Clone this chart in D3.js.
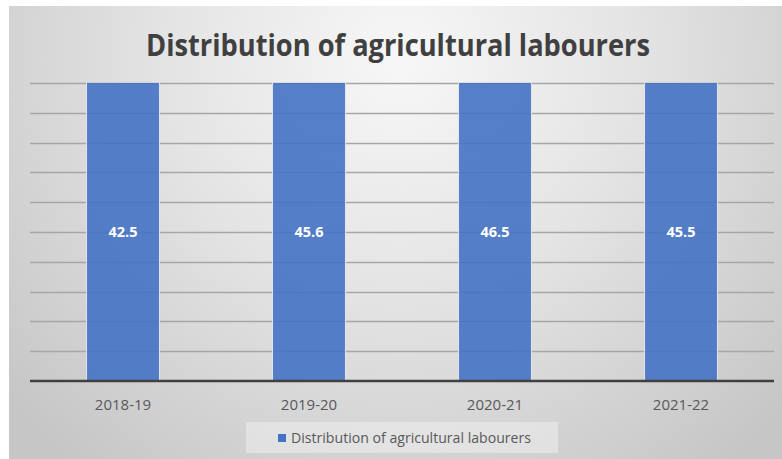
<!DOCTYPE html>
<html>
<head>
<meta charset="utf-8">
<script src="https://cdn.jsdelivr.net/npm/d3@7"></script>
<style>
	body { margin: 0; background: #fff; }
	svg { display: block; font-family: 'Open Sans', 'DejaVu Sans', sans-serif; }
</style>
</head>
<body>
<svg id="svg" width="782" height="459"></svg>
<script>
const width = 782;
const height = 459;

const categories = ['2018-19', '2019-20', '2020-21', '2021-22'];
const values = [42.5, 45.6, 46.5, 45.5];
const seriesName = 'Distribution of agricultural labourers';
const yTicks = [0, 4, 8, 12, 16, 20, 24, 28, 32, 36, 40];

const barColor = '#4472c4';
const gridColor = '#a6a6a6';
const textColor = '#595959';

const plot = { left: 30, right: 774, top: 83, bottom: 381 };

const svg = d3.select('#svg');

// background with soft radial shading
const defs = svg.append('defs');
const grad = defs.append('radialGradient')
	.attr('id', 'bg')
	.attr('gradientUnits', 'userSpaceOnUse')
	.attr('cx', 400).attr('cy', 60).attr('r', 520);
grad.append('stop').attr('offset', '0%').attr('stop-color', '#f7f7f7');
grad.append('stop').attr('offset', '45%').attr('stop-color', '#e4e4e4');
grad.append('stop').attr('offset', '100%').attr('stop-color', '#c6c6c6');

defs.append('clipPath').attr('id', 'plotClip')
	.append('rect')
	.attr('x', plot.left).attr('y', plot.top)
	.attr('width', plot.right - plot.left)
	.attr('height', plot.bottom - plot.top);

svg.append('rect')
	.attr('x', 9).attr('y', 6)
	.attr('width', width - 9).attr('height', height - 6)
	.attr('fill', 'url(#bg)');

const xScale = d3.scaleBand()
	.domain(categories)
	.range([plot.left, plot.right])
	.paddingInner(0.608)
	.paddingOuter(0.304);

const yScale = d3.scaleLinear()
	.domain([0, 40])
	.range([plot.bottom, plot.top]);

// grid
svg.append('g')
	.selectAll('line')
	.data(yTicks.slice(1))
	.enter()
	.append('line')
	.attr('x1', plot.left)
	.attr('x2', plot.right)
	.attr('y1', d => Math.round(yScale(d)) + 0.5)
	.attr('y2', d => Math.round(yScale(d)) + 0.5)
	.attr('stroke', gridColor)
	.attr('stroke-width', 1.5);

// bars (values run past the axis max so they are clipped at the top)
svg.append('g')
	.attr('clip-path', 'url(#plotClip)')
	.selectAll('rect')
	.data(values)
	.enter()
	.append('rect')
	.attr('x', (d, i) => xScale(categories[i]))
	.attr('y', d => yScale(d))
	.attr('width', xScale.bandwidth())
	.attr('height', d => plot.bottom - yScale(d))
	.attr('fill', barColor)
	.attr('fill-opacity', 0.9)
	.attr('stroke', '#dfe6f3')
	.attr('stroke-width', 1);

// data labels, centred on the visible part of the bar
svg.append('g')
	.selectAll('text')
	.data(values)
	.enter()
	.append('text')
	.attr('x', (d, i) => xScale(categories[i]) + xScale.bandwidth() / 2)
	.attr('y', (plot.top + plot.bottom) / 2 + 5)
	.attr('text-anchor', 'middle')
	.attr('fill', '#fff')
	.attr('font-size', 14.5)
	.attr('font-weight', 'bold')
	.text(d => d.toFixed(1));

// x axis
svg.append('line')
	.attr('x1', plot.left).attr('x2', plot.right)
	.attr('y1', plot.bottom).attr('y2', plot.bottom)
	.attr('stroke', '#404040')
	.attr('stroke-width', 2.5);

svg.append('g')
	.selectAll('text')
	.data(categories)
	.enter()
	.append('text')
	.attr('x', d => xScale(d) + xScale.bandwidth() / 2)
	.attr('y', 410)
	.attr('text-anchor', 'middle')
	.attr('fill', textColor)
	.attr('font-size', 15)
	.text(d => d);

// title
svg.append('text')
	.attr('x', 398)
	.attr('y', 56)
	.attr('text-anchor', 'middle')
	.attr('fill', '#404040')
	.attr('font-size', 31)
	.attr('font-weight', 'bold')
	.attr('textLength', 504)
	.attr('lengthAdjust', 'spacingAndGlyphs')
	.text('Distribution of agricultural labourers');

// legend
const legend = svg.append('g');
legend.append('rect')
	.attr('x', 246).attr('y', 422)
	.attr('width', 312).attr('height', 31)
	.attr('fill', '#ffffff')
	.attr('fill-opacity', 0.35);
legend.append('rect')
	.attr('x', 278).attr('y', 434)
	.attr('width', 8).attr('height', 8)
	.attr('fill', barColor);
legend.append('text')
	.attr('x', 291)
	.attr('y', 443)
	.attr('fill', textColor)
	.attr('font-size', 14.5)
	.attr('textLength', 240)
	.attr('lengthAdjust', 'spacingAndGlyphs')
	.text(seriesName);
</script>
</body>
</html>
